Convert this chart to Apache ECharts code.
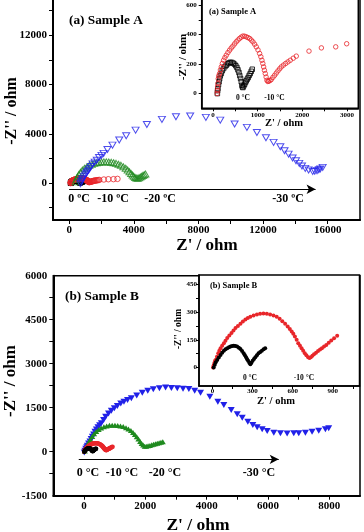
<!DOCTYPE html>
<html><head><meta charset="utf-8">
<script src="https://cdn.jsdelivr.net/npm/echarts@6/dist/echarts.min.js"></script>
<style>html,body{margin:0;padding:0;background:#fff}#c{width:364px;height:532px}</style>
</head><body><div id="c"></div>
<script>
// ---------- Sample A (hollow symbols) ----------
const sampleA_0C = [[100,0],[105,20],[112,34],[125,60],[138,80],[150,100],[165,120],[188,136],[210,155],[239,170],[270,183],[299,192],[330,202],[358,208],[390,212],[425,211],[455,206],[485,199],[512,189],[537,177],[560,161],[582,143],[600,122],[619,102],[635,80],[649,56],[661,45],[671,41],[690,52],[708,63],[727,75],[746,86],[768,98],[790,109],[812,123],[835,136],[858,151],[880,165]];
const sampleA_m10C = [[95,0],[100,20],[105,45],[112,68],[120,100],[130,120],[150,136],[168,160],[188,181],[212,204],[239,226],[268,244],[299,260],[336,278],[373,294],[410,309],[447,322],[485,337],[522,351],[560,363],[597,374],[634,383],[671,390],[708,389],[746,385],[783,380],[821,374],[858,363],[895,351],[933,335],[970,317],[1008,296],[1044,272],[1072,250],[1096,226],[1116,204],[1134,181],[1152,158],[1171,136],[1190,112],[1208,90],[1228,82],[1246,84],[1275,88],[1305,95],[1342,110],[1380,124],[1417,139],[1454,154],[1492,168],[1529,181],[1577,193],[1626,204],[1678,215],[1730,226],[1797,240],[1864,254],[2148,288],[2425,310],[2745,317],[2990,338]];
const sampleA_m20C = [[400,100],[450,300],[520,500],[600,700],[700,880],[820,1050],[950,1200],[1100,1330],[1250,1440],[1400,1530],[1550,1600],[1700,1650],[1850,1690],[2000,1710],[2150,1720],[2300,1720],[2450,1710],[2600,1690],[2750,1650],[2900,1600],[3050,1530],[3200,1440],[3350,1330],[3500,1200],[3620,1060],[3730,920],[3830,780],[3920,650],[4000,540],[4080,450],[4160,400],[4240,390],[4320,420],[4400,480],[4480,540],[4560,610],[4640,680],[4720,740]];
const sampleA_m30C = [[700,-50],[750,100],[800,250],[850,380],[920,520],[990,650],[1060,790],[1130,920],[1200,1050],[1270,1190],[1350,1350],[1450,1540],[1580,1700],[1710,1850],[1850,2080],[2000,2250],[2130,2410],[2370,2730],[2680,3080],[3100,3490],[3530,3840],[4110,4300],[4810,4760],[5740,5170],[6610,5380],[7490,5440],[8460,5330],[9350,5110],[10240,4790],[11000,4520],[11620,4110],[12180,3680],[12650,3300],[13070,2950],[13330,2620],[13580,2350],[13830,2030],[14040,1810],[14240,1600],[14410,1380],[14610,1190],[14820,1060],[15070,950],[15200,960],[15340,1000],[15450,1080],[15540,1140],[15690,1270]];

// ---------- Sample B (filled symbols) ----------
const sampleB_0C = [[10,0],[18,15],[25,28],[36,40],[48,54],[61,67],[73,80],[86,91],[98,98],[111,104],[124,109],[136,113],[148,116],[160,117],[172,116],[185,113],[198,107],[210,100],[222,89],[234,77],[243,66],[252,55],[260,45],[267,36],[276,26],[284,18],[292,26],[301,36],[311,46],[321,55],[333,66],[345,77],[358,84],[370,91],[383,98],[395,104]];
const sampleB_m10C = [[5,0],[10,12],[15,25],[20,35],[24,40],[34,58],[44,77],[52,90],[61,104],[73,118],[86,131],[98,145],[111,159],[127,173],[143,186],[158,200],[173,213],[191,225],[210,237],[228,248],[247,259],[265,267],[284,274],[308,281],[333,286],[357,290],[382,292],[407,290],[432,286],[457,281],[481,274],[503,263],[523,250],[544,237],[563,222],[579,208],[593,195],[605,182],[617,168],[630,150],[642,131],[655,118],[667,104],[679,90],[691,77],[703,66],[716,55],[726,52],[736,55],[748,63],[760,71],[775,80],[790,89],[805,97],[819,104],[835,113],[852,122],[870,134],[889,146],[910,158],[933,171]];
const sampleB_m20C = [[30,20],[70,120],[110,220],[160,330],[210,420],[270,520],[330,610],[400,690],[480,760],[560,810],[650,850],[740,880],[830,900],[920,905],[1010,905],[1100,895],[1190,880],[1280,855],[1370,820],[1450,775],[1530,720],[1600,655],[1660,585],[1720,510],[1775,430],[1830,350],[1880,280],[1930,225],[1980,190],[2030,185],[2090,200],[2150,215],[2210,235],[2270,255],[2330,270],[2390,285],[2450,305],[2510,320],[2570,340]];
const sampleB_m30C = [[10,-30],[30,30],[60,100],[90,150],[111,200],[150,280],[195,350],[235,430],[274,510],[315,590],[358,680],[405,760],[456,830],[510,900],[567,970],[640,1080],[707,1190],[800,1300],[893,1400],[990,1480],[1088,1560],[1200,1640],[1303,1705],[1420,1765],[1544,1820],[1720,1920],[1902,2010],[2080,2080],[2261,2130],[2460,2165],[2661,2185],[2850,2175],[3042,2160],[3230,2150],[3420,2140],[3610,2075],[3801,2010],[4104,1875],[4365,1705],[4560,1592],[4801,1422],[4997,1275],[5160,1159],[5342,1023],[5505,910],[5648,832],[5811,764],[5974,706],[6189,648],[6406,627],[6624,622],[6840,627],[7003,630],[7220,648],[7438,682],[7655,716],[7872,764],[7980,797]];

// ---------- axis ranges / ticks ----------
const mainA_xRange = [-1000, 18000], mainA_xLabels = [0,4000,8000,12000,16000], mainA_xTicks = [0,2000,4000,6000,8000,10000,12000,14000,16000];
const mainA_yRange = [-3000, 16000], mainA_yLabels = [0,4000,8000,12000], mainA_yTicks = [-2000,0,2000,4000,6000,8000,10000,12000,14000];
const insetA_xRange = [-250, 3250], insetA_xLabels = [0,1000,2000,3000], insetA_xTicks = [0,500,1000,1500,2000,2500,3000];
const insetA_yRange = [-100, 700], insetA_yLabels = [0,200,400,600], insetA_yTicks = [0,100,200,300,400,500,600];
const mainB_xRange = [-1000, 9000], mainB_xLabels = [0,2000,4000,6000,8000], mainB_xTicks = [0,1000,2000,3000,4000,5000,6000,7000,8000];
const mainB_yRange = [-1500, 6000], mainB_yLabels = [-1500,0,1500,3000,4500,6000], mainB_yTicks = [-750,0,750,1500,2250,3000,3750,4500,5250];
const insetB_xRange = [-100, 1100], insetB_xLabels = [0,300,600,900], insetB_xTicks = [0,150,300,450,600,750,900,1050];
const insetB_yRange = [-100, 500], insetB_yLabels = [0,150,300,450], insetB_yTicks = [0,75,150,225,300,375,450];

// arrows (data coordinates)
const arrowA = [[0,-500],[15250,-500]];
const arrowInsetA = [[510,15],[1590,15]];
const arrowB = [[-170,-260],[6350,-260]];
const arrowInsetB = [[230,-10],[750,-10]];

const FF = '"Liberation Serif","Times New Roman",serif';

function axis(kind, gi, range, labels, ticks, o) {
  return {
    type: 'value', gridIndex: gi, min: range[0], max: range[1], z: o.z || 0,
    position: kind === 'x' ? 'bottom' : 'left',
    axisLine: {show: true, onZero: false, lineStyle: {color: '#000', width: o.lw}},
    axisTick: {show: true, customValues: ticks, length: o.tl, lineStyle: {color: '#000', width: 1}},
    axisLabel: {customValues: labels, formatter: function (v) { return String(v); }, color: '#000', fontFamily: FF, fontWeight: 'bold', fontSize: o.fs, margin: o.m},
    splitLine: {show: false}
  };
}

function sc(name, xi, data, symbol, size, color, hollow, z, extra) {
  const s = {
    type: 'scatter', name: name, xAxisIndex: xi, yAxisIndex: xi, data: data,
    symbol: symbol === 'tridown' ? 'triangle' : symbol,
    symbolRotate: symbol === 'tridown' ? 180 : 0,
    symbolSize: size, z: z, silent: true,
    itemStyle: hollow ? {color: 'rgba(255,255,255,0)', borderColor: color, borderWidth: 1} : {color: color, opacity: 1},
    emphasis: {disabled: true}
  };
  return Object.assign(s, extra || {});
}
function arrowML(pts, w, sz) {
  return {markLine: {silent: true, symbol: ['none', 'arrow'], symbolSize: sz, animation: false,
    lineStyle: {color: '#000', width: w, type: 'solid'}, label: {show: false},
    data: [[{coord: pts[0]}, {coord: pts[1]}]]}};
}

const RED = '#e8262a', GREEN = '#1f8a1f', BLUE = '#2121e8', BLACK = '#000';

function txt(x, y, text, size, rot, align) {
  return {type: 'text', x: x, y: y, rotation: rot || 0, z: 100,
    style: {text: text, fill: '#000', font: 'bold ' + size + 'px ' + FF,
      align: align || 'center', textAlign: align || 'center', verticalAlign: 'middle', textVerticalAlign: 'middle'}};
}

const option = {
  backgroundColor: '#fff',
  animation: false,
  grid: [
    {left: 53, top: -14, width: 307, height: 234, show: true, borderColor: '#000', borderWidth: 1.5, backgroundColor: 'rgba(0,0,0,0)', outerBoundsMode: 'none', containLabel: false, z: 0},
    {left: 201.7, top: -9.6, width: 156.6, height: 117.9, show: true, borderColor: '#000', borderWidth: 1.5, backgroundColor: '#fff', outerBoundsMode: 'none', containLabel: false, z: 10},
    {left: 53.3, top: 275.7, width: 306.7, height: 220, show: true, borderColor: '#000', borderWidth: 1.5, backgroundColor: 'rgba(0,0,0,0)', outerBoundsMode: 'none', containLabel: false, z: 0},
    {left: 199, top: 275, width: 160.5, height: 111, show: true, borderColor: '#000', borderWidth: 1.5, backgroundColor: '#fff', outerBoundsMode: 'none', containLabel: false, z: 10}
  ],
  xAxis: [
    axis('x', 0, mainA_xRange, mainA_xLabels, mainA_xTicks, {lw: 2, tl: 4, fs: 11, m: 5}),
    axis('x', 1, insetA_xRange, insetA_xLabels, insetA_xTicks, {lw: 1.5, tl: 3, fs: 7, m: 3, z: 11}),
    axis('x', 2, mainB_xRange, mainB_xLabels, mainB_xTicks, {lw: 2, tl: 4, fs: 11, m: 5}),
    axis('x', 3, insetB_xRange, insetB_xLabels, insetB_xTicks, {lw: 1.5, tl: 3, fs: 7, m: 2, z: 11})
  ],
  yAxis: [
    axis('y', 0, mainA_yRange, mainA_yLabels, mainA_yTicks, {lw: 2, tl: 4, fs: 11, m: 6}),
    axis('y', 1, insetA_yRange, insetA_yLabels, insetA_yTicks, {lw: 1.5, tl: 3, fs: 7, m: 5, z: 11}),
    axis('y', 2, mainB_yRange, mainB_yLabels, mainB_yTicks, {lw: 2, tl: 4, fs: 11, m: 6}),
    axis('y', 3, insetB_yRange, insetB_yLabels, insetB_yTicks, {lw: 1.5, tl: 3, fs: 7, m: 2, z: 11})
  ],
  series: [
    // main A
    sc('A 0C', 0, sampleA_0C, 'rect', 5, BLACK, true, 2, arrowML(arrowA, 1.2, [7, 9])),
    sc('A -10C', 0, sampleA_m10C, 'circle', 5.5, RED, true, 2),
    sc('A -20C', 0, sampleA_m20C, 'triangle', [7, 6], GREEN, true, 2),
    sc('A -30C', 0, sampleA_m30C, 'tridown', [7, 6], BLUE, true, 2),
    // inset A
    sc('A 0C inset', 1, sampleA_0C, 'rect', 4.5, BLACK, true, 12, arrowML(arrowInsetA, 1, [5, 7])),
    sc('A -10C inset', 1, sampleA_m10C, 'circle', 4.5, RED, true, 12),
    // main B
    sc('B -30C', 2, sampleB_m30C, 'tridown', [7, 6], BLUE, false, 2),
    sc('B -20C', 2, sampleB_m20C, 'triangle', [6, 5], GREEN, false, 2),
    sc('B -10C', 2, sampleB_m10C, 'circle', 4.5, RED, false, 2),
    sc('B 0C', 2, sampleB_0C, 'circle', 4.5, BLACK, false, 2, arrowML(arrowB, 1.2, [7, 9])),
    // inset B
    sc('B -10C inset', 3, sampleB_m10C, 'circle', 4, RED, false, 12),
    sc('B 0C inset', 3, sampleB_0C, 'circle', 4, BLACK, false, 12, arrowML(arrowInsetB, 1, [5, 7]))
  ],
  graphic: [
    txt(69, 21, '(a) Sample A', 13.3, 0, 'left'),
    txt(209, 12, '(a) Sample A', 8.5, 0, 'left'),
    txt(65, 297, '(b) Sample B', 13.3, 0, 'left'),
    txt(210, 286, '(b) Sample B', 8.5, 0, 'left'),
    // axis names
    txt(207, 246, "Z' / ohm", 17),
    txt(12, 111, "-Z'' / ohm", 16, Math.PI / 2),
    txt(284, 123, "Z' / ohm", 10.5),
    txt(183, 57, "-Z'' / ohm", 11, Math.PI / 2),
    txt(198, 525, "Z' / ohm", 17.5),
    txt(11, 381, "-Z'' / ohm", 17, Math.PI / 2),
    txt(276, 401, "Z' / ohm", 10.5),
    txt(179, 329, "-Z'' / ohm", 9.5, Math.PI / 2),
    // temperature labels
    txt(79, 199, '0 ºC', 12), txt(113, 199, '-10 ºC', 12), txt(160, 199, '-20 ºC', 12), txt(288, 199, '-30 ºC', 12),
    txt(243, 98, '0 °C', 7.5), txt(274.5, 98, '-10 °C', 7.5),
    txt(88, 473, '0 °C', 12), txt(122, 473, '-10 °C', 12), txt(165, 473, '-20 °C', 12), txt(259, 473, '-30 °C', 12),
    txt(250, 378, '0 °C', 7.5), txt(304, 378, '-10 °C', 7.5)
  ]
};
const chart = echarts.init(document.getElementById('c'), null, {renderer: 'canvas'});
chart.setOption(option);
</script></body></html>
